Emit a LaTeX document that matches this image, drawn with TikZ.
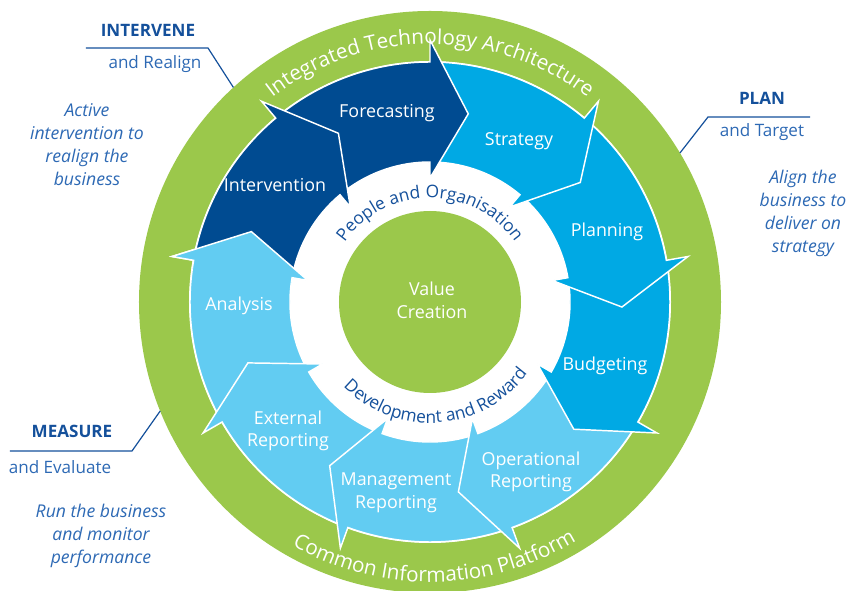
\documentclass[tikz,border=0pt]{standalone}
\usepackage{fontspec}
\setmainfont{Open Sans}
\usetikzlibrary{decorations.text}

\definecolor{ringgreen}{RGB}{155,200,75}
\definecolor{deepblue}{RGB}{0,75,145}
\definecolor{midblue}{RGB}{0,169,228}
\definecolor{paleblue}{RGB}{98,204,242}
\definecolor{inkblue}{RGB}{20,80,155}
\definecolor{noteblue}{RGB}{45,105,180}

% radii of the arrow ring (1 unit = 1px)
\def\rinner{140}
\def\router{240}
\def\rflarein{124}
\def\rflareout{262}
\def\rtip{192}
\def\tipangle{11.5}

% one arrow of the cycle: start angle, end angle, colour
\newcommand{\cyclearrow}[3]{%
  \filldraw[cycleedge, fill=#3]
    (#1:\rinner) -- (#1:\router)
    arc[start angle=#1, end angle=#2, radius=\router]
    -- (#2:\rflareout) -- ({#2-\tipangle}:\rtip) -- (#2:\rflarein)
    -- (#2:\rinner)
    arc[start angle=#2, end angle=#1, radius=\rinner] -- cycle;}

\newcommand{\ringfont}{\fontsize{15.5}{15.5}\selectfont\color{white}}
\newcommand{\bandfont}{\fontsize{13}{13}\selectfont\color{inkblue}}

\tikzset{
  cycleedge/.style={draw=white, line width=1.1pt},
  seglabel/.style={text=white, font=\fontsize{13.4}{17}\selectfont, align=center},
  heading/.style={text=inkblue, font=\bfseries\fontsize{12.8}{16}\selectfont},
  subheading/.style={text=noteblue, font=\fontsize{12.8}{16}\selectfont},
  notetext/.style={text=noteblue, font=\itshape\fontsize{13.2}{17.25}\selectfont, align=center},
  leader/.style={draw=inkblue, line width=0.9pt},
}

\begin{document}
\begin{tikzpicture}[x=0.75pt, y=0.75pt]
\useasboundingbox (-430,-289) rectangle (419,302);

%% Platform ring, white band and centre
\fill[ringgreen] (0,0) circle[radius=291];
\fill[white] (0,0) circle[radius=241];
\fill[ringgreen] (0,0) circle[radius=91];

%% Cycle arrows - drawn backwards so every head lies on the next arrow
\cyclearrow{-150}{-190}{paleblue} % Analysis
\cyclearrow{-110}{-150}{paleblue} % External Reporting
\cyclearrow{-70}{-110}{paleblue}  % Management Reporting
\cyclearrow{-30}{-70}{paleblue}   % Operational Reporting
\cyclearrow{10}{-30}{midblue}     % Budgeting
\cyclearrow{50}{10}{midblue}      % Planning
\cyclearrow{90}{50}{midblue}      % Strategy
\cyclearrow{130}{90}{deepblue}    % Forecasting
\cyclearrow{170}{130}{deepblue}   % Intervention

% Analysis head once more, over Intervention
\begin{scope}
  \clip (0,0) -- (172:300) arc[start angle=172, end angle=120, radius=300] -- cycle;
  \cyclearrow{-150}{-190}{paleblue}
\end{scope}

%% Arrow labels
\node[seglabel] (forecasting) at (-43,189) {Forecasting};
\node[seglabel] (intervention) at (-155,117) {Intervention};
\node[seglabel] (strategy) at (89,161) {Strategy};
\node[seglabel] (planning) at (177,70) {Planning};
\node[seglabel] (budgeting) at (175,-64) {Budgeting};
\node[seglabel] (operational) at (101,-170) {Operational\\Reporting};
\node[seglabel] (management) at (-34,-191) {Management\\Reporting};
\node[seglabel] (external) at (-142,-129) {External\\Reporting};
\node[seglabel] (analysis) at (-191,-4) {Analysis};
\node[seglabel] (value) at (2,2) {Value\\Creation};

%% Text round the rings
\path[decorate, decoration={text along path, text align=center,
  text={|\ringfont|Integrated Technology Architecture}}]
  (170:258) arc[start angle=170, end angle=10, radius=258];
\path[decorate, decoration={text along path, text align=center,
  text={|\ringfont|Common Information Platform}}]
  (192:280) arc[start angle=192, end angle=350, radius=280];
\path[decorate, decoration={text along path, text align=center,
  text={|\bandfont|People and Organisation}}]
  (160:104) arc[start angle=160, end angle=20, radius=104];
\path[decorate, decoration={text along path, text align=center,
  text={|\bandfont|Development and Reward}}]
  (204:121) arc[start angle=204, end angle=344, radius=121];

%% INTERVENE
\node[heading] (intervene) at (-282,272) {INTERVENE};
\node[subheading] (realign) at (-275,238) {and Realign};
\node[notetext] (active) at (-343,157) {Active\\intervention to\\realign the\\business};
\coordinate (int-a) at (-344,254);
\coordinate (int-b) at (-222,254);
\coordinate (int-c) at (132.5:291);
\draw[leader] (int-a) -- (int-b) -- (int-c);

%% PLAN
\node[heading] (plan) at (332,204) {PLAN};
\node[subheading] (target) at (332,170) {and Target};
\node[notetext] (align) at (373,89) {Align the\\business to\\deliver on\\strategy};
\coordinate (plan-a) at (30.8:291);
\coordinate (plan-b) at (278,185);
\coordinate (plan-c) at (380,185);
\draw[leader] (plan-a) -- (plan-b) -- (plan-c);

%% MEASURE
\node[heading] (measure) at (-358,-129) {MEASURE};
\node[subheading] (evaluate) at (-370,-165) {and Evaluate};
\node[notetext] (run) at (-329,-234) {Run the business\\and monitor\\performance};
\coordinate (meas-a) at (-420,-149);
\coordinate (meas-b) at (-298,-149);
\coordinate (meas-c) at (202:291);
\draw[leader] (meas-a) -- (meas-b) -- (meas-c);

\end{tikzpicture}
\end{document}
